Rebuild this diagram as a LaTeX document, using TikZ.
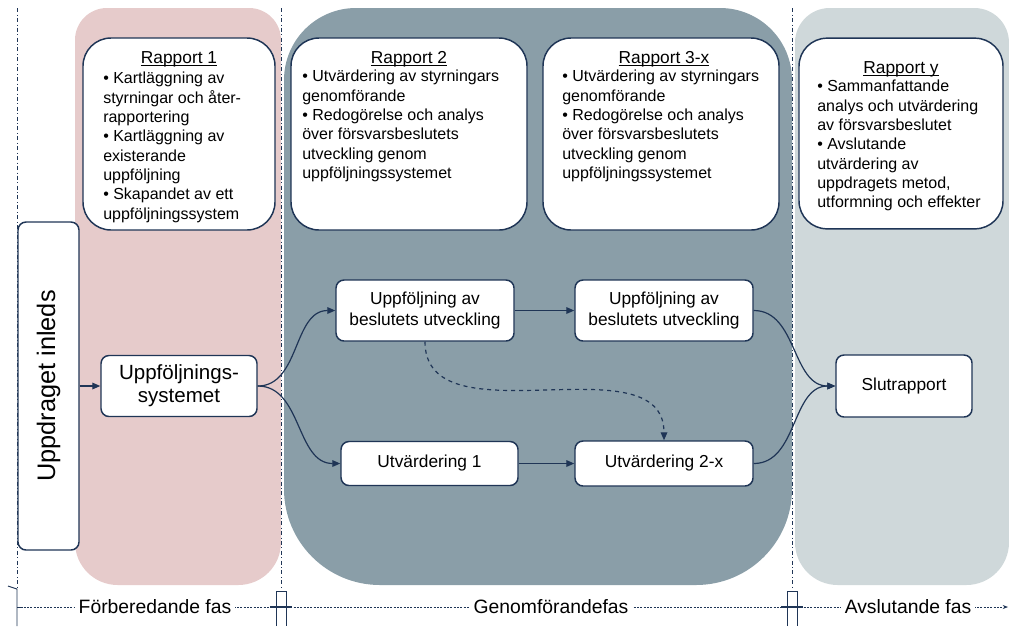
\documentclass[tikz,border=0pt]{standalone}
\usepackage{fontspec}
\setmainfont{Liberation Sans}
\usetikzlibrary{arrows.meta,positioning}
\definecolor{navyLine}{HTML}{1F3556}
\definecolor{softPink}{HTML}{E6CBCB}
\definecolor{slateGray}{HTML}{8A9EA8}
\definecolor{paleGray}{HTML}{CFD8DA}

\begin{document}
\begin{tikzpicture}[x=0.75pt, y=-0.75pt,
    flow/.style={draw=navyLine, line width=1.1pt, fill=white, rounded corners=6pt, align=center, inner sep=0pt, font=\fontsize{13}{15.6}\selectfont},
    rapbox/.style={draw=navyLine, line width=1.1pt, fill=white, rounded corners=21pt, inner sep=0pt},
    raptitle/.style={inner sep=0pt, anchor=base, font=\fontsize{13}{15}\selectfont},
    raptext/.style={inner sep=0pt, anchor=north west, align=left, font=\fontsize{12}{14.5}\selectfont},
    fas/.style={fill=white, inner sep=3pt, font=\fontsize{14.5}{17}\selectfont},
    arr/.style={-{Triangle[length=6pt,width=5pt]}, navyLine, line width=0.9pt},
    sep/.style={navyLine, dash dot, line width=0.6pt},
    bracket/.style={navyLine, line width=0.7pt}
  ]
    \useasboundingbox (0,0) rectangle (1009,626);

    % phase panels
    \fill[softPink] [rounded corners=24pt] (75,300) -- (75,8) -- (281,8) -- (281,300)
      [rounded corners=32pt] -- (281,585) -- (75,585) -- cycle;
    \fill[slateGray] [rounded corners=54pt] (284,300) -- (284,8) -- (792,8) -- (792,300)
      [rounded corners=72pt] -- (792,585) -- (284,585) -- cycle;
    \fill[paleGray] [rounded corners=26pt] (795,300) -- (795,8) -- (1009,8) -- (1009,300)
      [rounded corners=32pt] -- (1009,585) -- (795,585) -- cycle;

    % phase borders
    \draw[sep] (17,8) -- (17,588);
    \draw[sep] (281,8) -- (281,590);
    \draw[sep] (792,8) -- (792,590);

    % reports
    \node[rapbox, minimum width=144pt, minimum height=144pt] (r1) at (179,134) {};
    \node[rapbox, minimum width=177pt, minimum height=144pt] (r2) at (409,134) {};
    \node[rapbox, minimum width=177pt, minimum height=144pt] (r3) at (661,134) {};
    \node[rapbox, minimum width=153pt, minimum height=143pt] (ry) at (901,133.5) {};

    \node[raptitle] (r1title) at (179,63) {\underline{\smash{Rapport 1}}};
    \node[raptext] (r1text) at (103,72) {• Kartläggning av\\styrningar och åter-\\rapportering\\• Kartläggning av\\existerande\\uppföljning\\• Skapandet av ett\\uppföljningssystem};

    \node[raptitle] (r2title) at (409,63) {\underline{\smash{Rapport 2}}};
    \node[raptext] (r2text) at (302,70) {• Utvärdering av styrningars\\genomförande\\• Redogörelse och analys\\över försvarsbeslutets\\utveckling genom\\uppföljningssystemet};

    \node[raptitle] (r3title) at (664,63) {\underline{\smash{Rapport 3-x}}};
    \node[raptext] (r3text) at (562,70) {• Utvärdering av styrningars\\genomförande\\• Redogörelse och analys\\över försvarsbeslutets\\utveckling genom\\uppföljningssystemet};

    \node[raptitle] (rytitle) at (901,73) {\underline{\smash{Rapport y}}};
    \node[raptext] (rytext) at (817,80) {• Sammanfattande\\analys och utvärdering\\av försvarsbeslutet\\• Avslutande\\utvärdering av\\uppdragets metod,\\utformning och effekter};

    % flow
    \node[flow, rotate=90, minimum width=246pt, minimum height=45.75pt, font=\fontsize{19}{22}\selectfont] (inleds) at (48.5,386) {Uppdraget inleds};
    \node[flow, minimum width=117pt, minimum height=45.75pt, font=\fontsize{15.4}{17.3}\selectfont] (uppsys) at (179,386) {Uppföljnings-\\systemet};
    \node[flow, minimum width=133.5pt, minimum height=45.75pt] (uppf1) at (425,310.5) {Uppföljning av\\beslutets utveckling};
    \node[flow, minimum width=133.5pt, minimum height=45.75pt] (uppf2) at (664,310.5) {Uppföljning av\\beslutets utveckling};
    \node[flow, minimum width=132.75pt, minimum height=33pt] (utv1) at (429.5,463.5) {Utvärdering 1};
    \node[flow, minimum width=133.5pt, minimum height=33.75pt] (utv2) at (664,463.5) {Utvärdering 2-x};
    \node[flow, minimum width=102pt, minimum height=46.5pt] (slut) at (904,386) {Slutrapport};

    \draw[arr] (inleds.south) -- (uppsys.west);
    \draw[arr] (uppsys.east) to[out=0, in=180] (uppf1.west);
    \draw[arr] (uppsys.east) to[out=0, in=180] (utv1.west);
    \draw[arr] (uppf1) -- (uppf2);
    \draw[arr] (utv1) -- (utv2);
    \draw[arr, dashed] (uppf1.south) to[out=-90, in=90] (utv2.north);
    \draw[arr] (uppf2.east) to[out=0, in=180] (slut.west);
    \draw[arr] (utv2.east) to[out=0, in=180] (slut.west);

    % time line
    \coordinate (tl) at (17,607);
    \coordinate (tr) at (1008,607);
    \draw[navyLine, line width=0.6pt, dash pattern=on 1.5pt off 1pt, -{Stealth[length=4pt,width=3pt]}] (tl) -- (tr);
    \draw[bracket] (8,586) -- (17,589) -- (17,626);
    \draw[bracket] (17,607) -- (23,607);
    \draw[bracket] (276,626) -- (276,591) -- (286,591) -- (286,626);
    \draw[bracket, line width=1.2pt] (270,607) -- (292,607);
    \draw[bracket] (787,626) -- (787,591) -- (797,591) -- (797,626);
    \draw[bracket, line width=1.2pt] (781,607) -- (803,607);
    \node[fas] (fasA) at (155,607) {Förberedande fas};
    \node[fas] (fasB) at (551,607) {Genomförandefas};
    \node[fas] (fasC) at (908,607) {Avslutande fas};
  \end{tikzpicture}
\end{document}
